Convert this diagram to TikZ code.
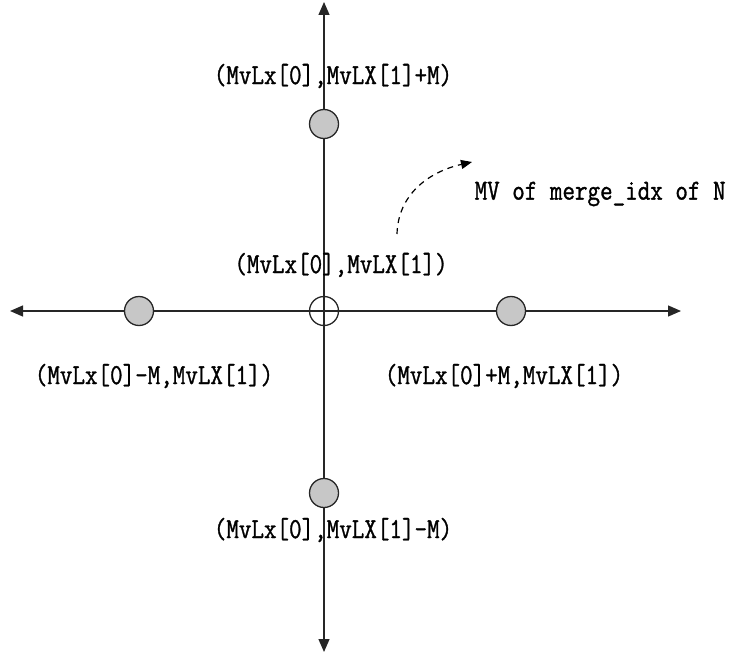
\documentclass[tikz,border=0pt]{standalone}
\usepackage{fontspec}
\newfontfamily\mvfont[FakeBold=1.2]{Latin Modern Mono}
\usetikzlibrary{arrows.meta}

\tikzset{
 mvdot/.style={circle,draw=black!85,line width=1.3pt,minimum size=29pt,inner sep=0pt,fill=black!22},
 mvlbl/.style={font=\mvfont\fontsize{29}{29}\selectfont,inner sep=0pt},
}
\newcommand\narrow[1]{\scalebox{0.84}[1]{#1}}

\begin{document}
\begin{tikzpicture}[x=1pt,y=-1pt,>={Triangle[length=13pt,width=11pt]},line width=1.3pt]
\useasboundingbox (0,0) rectangle (741,658);

\def\cx{324} \def\cy{311}
% axis ends
\coordinate (W) at (10,\cy);
\coordinate (E) at (681,\cy);
\coordinate (N) at (\cx,2);
\coordinate (S) at (\cx,652);
\draw[<->,black!85] (W) -- (E);
\draw[<->,black!85] (N) -- (S);

% candidates
\node[mvdot] (cU) at (\cx,124) {};
\node[mvdot] (cD) at (\cx,493) {};
\node[mvdot] (cL) at (139,\cy) {};
\node[mvdot] (cR) at (511,\cy) {};
\node[mvdot,fill=none] (c0) at (\cx,\cy) {};

% labels
\node[mvlbl] (lU) at (333,76) {\narrow{(MvLx[0],MvLX[1]+M)}};
\node[mvlbl] (l0) at (341,265) {\narrow{(MvLx[0],MvLX[1])}};
\node[mvlbl] (lL) at (154,376) {\narrow{(MvLx[0]-M,MvLX[1])}};
\node[mvlbl] (lR) at (504,376) {\narrow{(MvLx[0]+M,MvLX[1])}};
\node[mvlbl] (lD) at (333,530) {\narrow{(MvLx[0],MvLX[1]-M)}};
\node[mvlbl,anchor=west] (mv) at (474,194) {\narrow{MV of merge\_idx of N}};

\coordinate (tail) at (397,234);
\coordinate (head) at (472,162);
\draw[->,dashed,line width=1.2pt,dash pattern=on 6pt off 5pt,>={Triangle[length=11pt,width=9pt]}]
 (tail) .. controls (398,195) and (428,172) .. (head);

\end{tikzpicture}
\end{document}
